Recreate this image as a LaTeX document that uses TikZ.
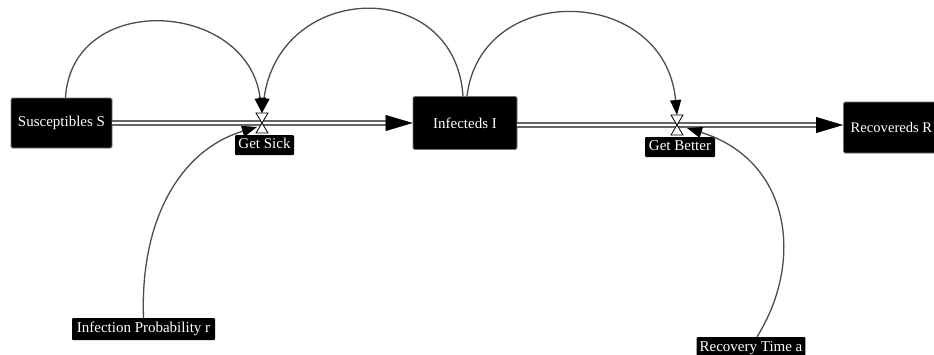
\documentclass[tikz,border=0pt]{standalone}
\usepackage{fontspec}
\setmainfont{Liberation Serif}
\usetikzlibrary{arrows.meta}
\tikzset{
  stock/.style={fill=black, draw=black!55, line width=0.9pt, text=white,
    rounded corners=1.5pt, font=\fontsize{15}{18}\selectfont, inner sep=0pt},
  lbl/.style={fill=black, text=white, rounded corners=1pt, inner xsep=3pt,
    inner ysep=1.5pt, text height=11pt, text depth=3.5pt, minimum height=20pt,
    font=\fontsize{15}{18}\selectfont},
  pipe/.style={draw=black!60, line width=1.4pt, double=white, double distance=2.4pt},
  pipehead/.style={-{Triangle[length=27pt,width=16pt]}, black, line width=0.4pt},
  link/.style={draw=black!70, line width=1.3pt,
    -{Triangle[length=15pt,width=11pt,color=black]}},
  valve/.style={draw=black, fill=white, line width=0.8pt, line join=miter}
}
\begin{document}
\begin{tikzpicture}[x=1pt,y=-1pt]
\useasboundingbox (0,0) rectangle (934,354);
% stocks
\node[stock, minimum width=101pt, minimum height=50pt] (S) at (61.5,123) {Susceptibles S};
\node[stock, minimum width=104pt, minimum height=53pt] (I) at (465,123) {Infecteds I};
\node[stock, minimum width=96pt, minimum height=51pt, anchor=west, inner xsep=2pt,
  font=\fontsize{14.6}{18}\selectfont] (R) at (843,127.5) {Recovereds R};
% flow coordinates
\coordinate (v1) at (262,123);
\coordinate (v1t) at (262,113);
\coordinate (v2) at (677,125);
\coordinate (v2t) at (677,115);
\coordinate (p1) at (386,123);
\coordinate (p2) at (816,125);
\coordinate (c1) at (257,127);
\coordinate (c2) at (687,128);
% pipes
\draw[pipe] (S.east) -- (p1);
\draw[pipehead] (p1) -- (I.west |- p1);
\draw[pipe] (I.east |- p2) -- (p2);
\draw[pipehead] (p2) -- (R.west |- p2);
% valves
\draw[valve, shift={(v1)}] (-6,-10) -- (6,-10) -- (-6,10) -- (6,10) -- cycle;
\draw[valve, shift={(v2)}] (-6,-10) -- (6,-10) -- (-6,10) -- (6,10) -- cycle;
% labels
\node[lbl, minimum width=59pt] (gs) at (264.5,145) {Get Sick};
\node[lbl, minimum width=70pt] (gb) at (680,147) {Get Better};
\node[lbl, minimum width=143pt, minimum height=22pt] (ip) at (143.5,329) {Infection Probability r};
\node[lbl, minimum width=108pt, minimum height=22pt] (rt) at (751,348) {Recovery Time a};
% links
\draw[link] ([xshift=4pt]S.north) .. controls (72,-10) and (248,0) .. (v1t);
\draw[link] ([xshift=-2pt]I.north) .. controls (455,-24) and (280,-19) .. (v1t);
\draw[link] ([xshift=2pt]I.north) .. controls (481,-20) and (665,-15) .. (v2t);
\draw[link] (ip.north) .. controls (140,220) and (180,150) .. (c1);
\draw[link] ([xshift=6pt]rt.north) .. controls (805,260) and (790,160) .. (c2);
\end{tikzpicture}
\end{document}
